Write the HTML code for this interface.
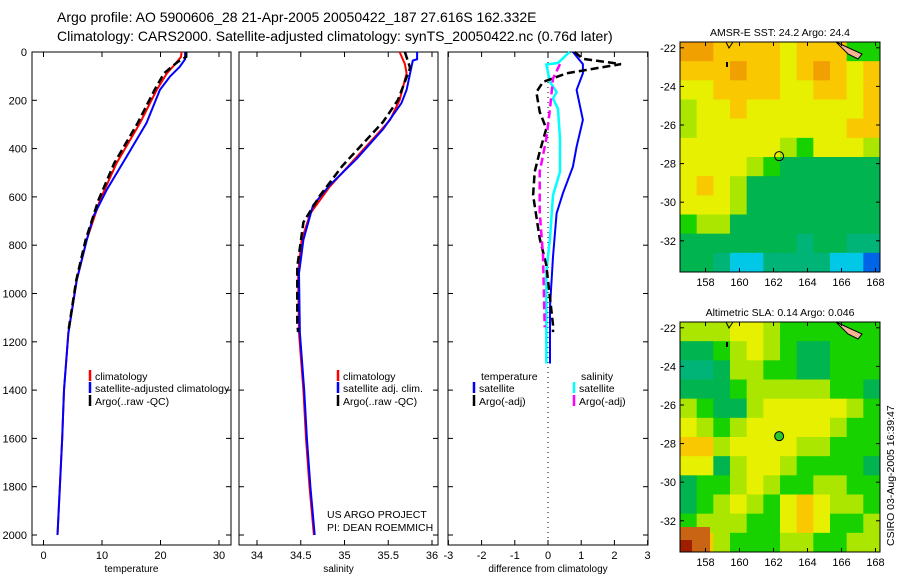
<!DOCTYPE html>
<html><head><meta charset="utf-8"><style>
body{margin:0;background:#fff}
svg{display:block;font-family:"Liberation Sans",sans-serif}
text{font-size:11px;fill:#000}
</style></head><body>
<svg id="fig" width="900" height="580" xmlns="http://www.w3.org/2000/svg">
<text x="57" y="22" style="font-size:14px">Argo profile: AO 5900606_28 21-Apr-2005 20050422_187 27.616S 162.332E</text>
<text x="57" y="41" style="font-size:14px">Climatology: CARS2000. Satellite-adjusted climatology: synTS_20050422.nc (0.76d later)</text>
<g id="g"></g>
</svg>
<script>
// ---- data ----
const tempDepth=[0,20,50,88,157,294,460,613,778,944,1164,1400,1600,2000];
const tempClim=[23.6,23.5,22.5,21.1,19.35,16.5,12.5,9.66,7.38,5.68,4.24,3.5,3.2,2.4];
const tempSatDepth=[0,30,61,102,157,294,433,571,682,778,944,1164,1400,1600,2000];
const tempSat=[24.2,24.2,23.3,21.6,19.9,17.6,14.2,10.8,8.5,7.4,5.7,4.25,3.5,3.2,2.4];
const tempArgoDepth=[0,20,40,88,157,294,460,613,778,944,1164];
const tempArgo=[24.4,24.4,23.0,20.6,19.0,16.1,12.1,9.4,7.2,5.6,4.2];
const salDepth=[0,50,88,199,282,406,558,668,778,917,1164,1400,1600,1800,2000];
const salClim=[35.63,35.69,35.71,35.63,35.52,35.21,34.83,34.61,34.51,34.47,34.48,34.53,34.56,34.6,34.65];
const salSatDepth=[0,30,35,157,212,320,442,552,635,778,917,1164,1400,1600,1800,2000];
const salSat=[35.83,35.83,35.78,35.71,35.65,35.44,35.14,34.83,34.64,34.53,34.48,34.49,34.54,34.57,34.61,34.66];
const salArgoDepth=[0,66,199,290,470,594,705,888,1122,1160];
const salArgo=[35.69,35.75,35.61,35.44,34.98,34.72,34.53,34.46,34.46,34.47];
const dTSatDepth=[0,50,88,157,281,392,475,585,668,848,1055,1290];
const dTSat=[0.75,1.05,1.05,0.86,1.05,0.86,0.75,0.45,0.26,0.15,0.06,0.06];
const dTArgoDepth=[0,28,50,88,124,166,248,317,413,496,593,772,882,1130,1160];
const dTArgo=[0.8,1.05,2.2,0.56,-0.15,-0.35,-0.25,-0.05,-0.25,-0.4,-0.45,-0.25,-0.05,0.15,0.15];
const dSSatDepth=[0,45,52,124,166,193,235,359,496,593,772,910,1290];
const dSSat=[0.65,0.3,-0.05,0.06,0.26,0.15,0.3,0.36,0.36,0.15,0.06,-0.05,-0.05];
const dSArgoDepth=[50,110,235,359,496,662,841,1140];
const dSArgo=[0.36,0.15,0.06,-0.05,-0.25,-0.25,-0.15,-0.1];
const depthTicks=[0,200,400,600,800,1000,1200,1400,1600,1800,2000];
const tempTicks=[0,10,20,30];
const salTicks=[34,34.5,35,35.5,36];
const diffTicks=[-3,-2,-1,0,1,2,3];
const lonTicks=[158,160,162,164,166,168];
const latTicks=[-22,-24,-26,-28,-30,-32];
const sstGrid=["998888788855","888988789878","778888778878","677877777778","677777777788","777777657776","777765444444","787644444444","777644444444","566444444444","444444434433","443223333221"];
const slaGrid=["666776555555","445676544555","334665544555","444566666554","654467777765","765677777655","886777766555","774677655554","455676556655","456765787665","566655787556","986555665566"];
// ---- helpers ----
const NS="http://www.w3.org/2000/svg";
const G=document.getElementById('g');
function el(tag,attrs,parent){const e=document.createElementNS(NS,tag);for(const k in attrs)e.setAttribute(k,attrs[k]);(parent||G).appendChild(e);return e;}
const yD=d=>52+d*0.2415;
const xT=v=>43.5+v*5.85, xS=v=>257+(v-34)*87.5, xDf=v=>548+v*33.2;
function panel(x0,x1,name,ticks,fx,label,ylabels){
  const r=el('rect',{x:x0,y:52,width:x1-x0,height:493,fill:'none',stroke:'#000','stroke-width':1});
  
  
  depthTicks.forEach(d=>{el('line',{x1:x0,x2:x0+5,y1:yD(d),y2:yD(d),stroke:'#000'});el('line',{x1:x1,x2:x1-5,y1:yD(d),y2:yD(d),stroke:'#000'});
    if(ylabels){const t=el('text',{x:x0-5,y:yD(d)+4,'text-anchor':'end'});t.textContent=d;
      
      }});
  ticks.forEach(v=>{const x=fx(v);el('line',{x1:x,x2:x,y1:52,y2:57,stroke:'#000'});el('line',{x1:x,x2:x,y1:545,y2:540,stroke:'#000'});
    const t=el('text',{x:x,y:559,'text-anchor':'middle'});t.textContent=v;
    
    });
  const t=el('text',{x:(x0+x1)/2,y:572,'text-anchor':'middle',style:'font-size:10px'});t.textContent=label;
  
  
}
function line(ds,vs,fx,color,w,dash,name){
  const p=ds.map((d,i)=>fx(vs[i]).toFixed(1)+','+yD(d).toFixed(1)).join(' ');
  const e=el('polyline',{points:p,fill:'none',stroke:color,'stroke-width':w});
  if(dash)e.setAttribute('stroke-dasharray',dash);
  
  
}
function legend(x,y,color,label,name){
  el('line',{x1:x,x2:x,y1:y-6,y2:y+5,stroke:color,'stroke-width':2.5});
  const t=el('text',{x:x+5,y:y+4,style:'font-size:10.5px'});t.textContent=label;
  
  
}
panel(32,231,'temperature',tempTicks,xT,'temperature',true);
panel(239,438,'salinity',salTicks,xS,'salinity',false);
panel(448,648,'difference',diffTicks,xDf,'difference from climatology',false);
// right depth tick labels beside diff panel? (none) 
line(tempDepth,tempClim,xT,'#f00',2,null,'temp-climatology-line');
line(tempSatDepth,tempSat,xT,'#00f',2,null,'temp-satellite-line');
line(tempArgoDepth,tempArgo,xT,'#000',2.5,'8,4','temp-argo-line');
line(salDepth,salClim,xS,'#f00',2,null,'sal-climatology-line');
line(salSatDepth,salSat,xS,'#00f',2,null,'sal-satellite-line');
line(salArgoDepth,salArgo,xS,'#000',2.5,'8,4','sal-argo-line');
el('line',{x1:548,x2:548,y1:52,y2:545,stroke:'#000','stroke-dasharray':'1,4'});
line(dTSatDepth,dTSat,xDf,'#00f',2,null,'diff-temp-satellite-line');
line(dSSatDepth,dSSat,xDf,'#0ff',2.5,null,'diff-sal-satellite-line');
line(dTArgoDepth,dTArgo,xDf,'#000',2.5,'8,4','diff-temp-argo-line');
line(dSArgoDepth,dSArgo,xDf,'#f0f',2.5,'8,4','diff-sal-argo-line');
legend(90,376,'#f00','climatology','legend-climatology');
legend(90,388,'#00f','satellite-adjusted climatology','legend-satellite');
legend(90,401,'#000','Argo(..raw -QC)','legend-argo');
legend(338,376,'#f00','climatology','legend2-climatology');
legend(338,388,'#00f','satellite adj. clim.','legend2-satellite');
legend(338,401,'#000','Argo(..raw -QC)','legend2-argo');
{const t=el('text',{x:481,y:380,style:'font-size:10.5px'});t.textContent='temperature';
 
 }
{const t=el('text',{x:581,y:380,style:'font-size:10.5px'});t.textContent='salinity';
 
 }
legend(474,388,'#00f','satellite','legend3-temp-satellite');
legend(474,401,'#000','Argo(-adj)','legend3-temp-argo');
legend(574,388,'#0ff','satellite','legend3-sal-satellite');
legend(574,401,'#f0f','Argo(-adj)','legend3-sal-argo');
{const t=el('text',{x:327,y:518,style:'font-size:10.5px'});t.textContent='US ARGO PROJECT';
 
 }
{const t=el('text',{x:327,y:531,style:'font-size:10.5px'});t.textContent='PI: DEAN ROEMMICH';
 
 }
// ---- maps ----
const pal={'1':'#0064e6','2':'#00c8e6','3':'#00b478','4':'#00b450','5':'#18d200','6':'#aae600','7':'#e6f000','8':'#fac800','9':'#f0a000'};
const xL=lon=>680+(lon-156.5)*17, yL=lat=>42+(-21.7-lat)*19.3;
function map(top,grid,name,title){
  const cw=200/12,ch=230/12;
  grid.forEach((row,r)=>row.split('').forEach((c,k)=>{
    const e=el('rect',{x:680+k*cw,y:top+r*ch,width:cw+0.5,height:ch+0.5,fill:pal[c]});
    
    }));
  const off=top-42;
  if(name==='sla-map'){el('rect',{x:680,y:top+205,width:30,height:25,fill:'#c86414'});el('rect',{x:680,y:top+218,width:12,height:12,fill:'#a01e00'});}
  el('path',{d:`M836 ${top} L862 ${top+12} L858 ${top+17} L848 ${top+12} Z`,fill:'#f5b496',stroke:'#000'});
  el('path',{d:`M726 ${top} L729 ${top+6} L733 ${top} `,fill:'none',stroke:'#000'});
  el('rect',{x:726,y:top+20,width:2,height:5,fill:'#000'});
  const fr=el('rect',{x:680,y:top,width:200,height:230,fill:'none',stroke:'#000'});
  
  
  latTicks.forEach(v=>{const y=yL(v)+off;el('line',{x1:680,x2:684,y1:y,y2:y,stroke:'#000'});el('line',{x1:880,x2:876,y1:y,y2:y,stroke:'#000'});
    const t=el('text',{x:676,y:y+4,'text-anchor':'end'});t.textContent=v;
    
    });
  lonTicks.forEach(v=>{const x=xL(v);el('line',{x1:x,x2:x,y1:top,y2:top+4,stroke:'#000'});el('line',{x1:x,x2:x,y1:top+230,y2:top+226,stroke:'#000'});
    const t=el('text',{x:x,y:top+244,'text-anchor':'middle'});t.textContent=v;
    
    });
  const t=el('text',{x:780,y:top-6,'text-anchor':'middle',style:'font-size:10.5px'});t.textContent=title;
  
  
  const c=el('circle',{cx:xL(162.332),cy:yL(-27.616)+off,r:4.5,fill:name==='sla-map'?'#28c828':'none',stroke:'#000'});
  
  
}
map(42,sstGrid,'sst-map','AMSR-E SST: 24.2 Argo: 24.4');
map(322,slaGrid,'sla-map','Altimetric SLA: 0.14 Argo: 0.046');
{const t=el('text',{x:0,y:0,transform:'translate(894,546) rotate(-90)',style:'font-size:10.5px'});t.textContent='CSIRO 03-Aug-2005 16:39:47';
 
 }
</script>
</body></html>
